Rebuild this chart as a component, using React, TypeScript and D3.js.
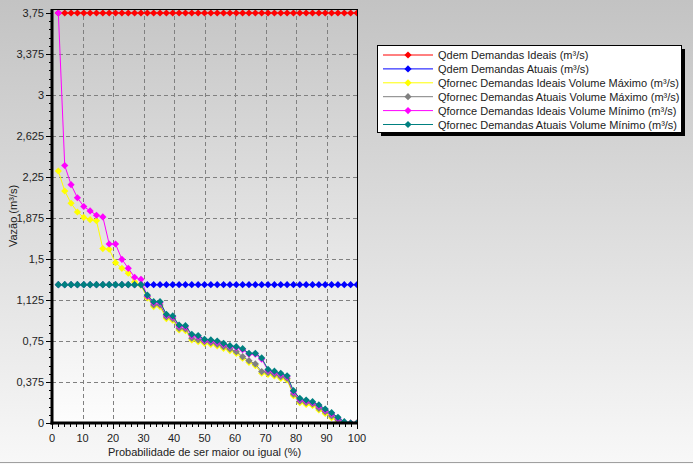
import React from "react";
import * as d3 from "d3";

const prob = [2.08, 4.17, 6.25, 8.33, 10.42, 12.5, 14.58, 16.67, 18.75, 20.83, 22.92, 25, 27.08, 29.17, 31.25, 33.33, 35.42, 37.5, 39.58, 41.67, 43.75, 45.83, 47.92, 50, 52.08, 54.17, 56.25, 58.33, 60.42, 62.5, 64.58, 66.67, 68.75, 70.83, 72.92, 75, 77.08, 79.17, 81.25, 83.33, 85.42, 87.5, 89.58, 91.67, 93.75, 95.83, 97.92, 100];

const qdemIdeais = [3.75, 3.75, 3.75, 3.75, 3.75, 3.75, 3.75, 3.75, 3.75, 3.75, 3.75, 3.75, 3.75, 3.75, 3.75, 3.75, 3.75, 3.75, 3.75, 3.75, 3.75, 3.75, 3.75, 3.75, 3.75, 3.75, 3.75, 3.75, 3.75, 3.75, 3.75, 3.75, 3.75, 3.75, 3.75, 3.75, 3.75, 3.75, 3.75, 3.75, 3.75, 3.75, 3.75, 3.75, 3.75, 3.75, 3.75, 3.75];

const qdemAtuais = [1.265, 1.265, 1.265, 1.265, 1.265, 1.265, 1.265, 1.265, 1.265, 1.265, 1.265, 1.265, 1.265, 1.265, 1.265, 1.265, 1.265, 1.265, 1.265, 1.265, 1.265, 1.265, 1.265, 1.265, 1.265, 1.265, 1.265, 1.265, 1.265, 1.265, 1.265, 1.265, 1.265, 1.265, 1.265, 1.265, 1.265, 1.265, 1.265, 1.265, 1.265, 1.265, 1.265, 1.265, 1.265, 1.265, 1.265, 1.265];

const qfIdeaisMax = [2.305, 2.122, 2.01, 1.93, 1.88, 1.86, 1.85, 1.595, 1.59, 1.466, 1.415, 1.37, 1.29, 1.26, 1.145, 1.065, 1.065, 0.955, 0.94, 0.851, 0.845, 0.76, 0.745, 0.729, 0.72, 0.705, 0.683, 0.662, 0.637, 0.592, 0.555, 0.525, 0.455, 0.445, 0.43, 0.409, 0.394, 0.25, 0.185, 0.17, 0.16, 0.119, 0.088, 0.049, 0.012, 0, 0, 0];

const qfAtuaisMax = [1.265, 1.265, 1.265, 1.265, 1.265, 1.265, 1.265, 1.265, 1.265, 1.265, 1.265, 1.265, 1.265, 1.265, 1.16, 1.08, 1.08, 0.97, 0.955, 0.866, 0.86, 0.775, 0.76, 0.744, 0.735, 0.72, 0.698, 0.677, 0.652, 0.607, 0.57, 0.54, 0.47, 0.46, 0.445, 0.424, 0.409, 0.265, 0.2, 0.185, 0.175, 0.134, 0.103, 0.064, 0.027, 0, 0, 0];

const qfIdeaisMin = [3.75, 2.355, 2.18, 2.06, 1.98, 1.94, 1.9, 1.885, 1.637, 1.637, 1.497, 1.415, 1.333, 1.314, 1.16, 1.1, 1.1, 0.985, 0.97, 0.885, 0.88, 0.8, 0.79, 0.755, 0.75, 0.74, 0.72, 0.7, 0.69, 0.67, 0.63, 0.63, 0.585, 0.48, 0.465, 0.445, 0.425, 0.285, 0.215, 0.2, 0.185, 0.155, 0.118, 0.084, 0.042, 0.005, 0, 0];

const qfAtuaisMin = [1.265, 1.265, 1.265, 1.265, 1.265, 1.265, 1.265, 1.265, 1.265, 1.265, 1.265, 1.265, 1.265, 1.265, 1.17, 1.11, 1.11, 0.994, 0.979, 0.896, 0.89, 0.811, 0.8, 0.765, 0.76, 0.75, 0.729, 0.707, 0.698, 0.68, 0.637, 0.637, 0.595, 0.49, 0.474, 0.455, 0.432, 0.296, 0.226, 0.21, 0.195, 0.165, 0.128, 0.094, 0.052, 0.012, 0, 0];

const seriesNames = [
  "Qdem Demandas Ideais (m³/s)",
  "Qdem Demandas Atuais (m³/s)",
  "Qfornec Demandas Ideais Volume Máximo (m³/s)",
  "Qfornec Demandas Atuais Volume Máximo (m³/s)",
  "Qfornce Demandas Ideais Volume Mínimo (m³/s)",
  "Qfornec Demandas Atuais Volume Mínimo (m³/s)",
];
const seriesColors = ["#ff0000", "#0000ff", "#ffff00", "#808080", "#ff00ff", "#008080"];
const seriesValues = [qdemIdeais, qdemAtuais, qfIdeaisMax, qfAtuaisMax, qfIdeaisMin, qfAtuaisMin];

const xTicks = [0, 10, 20, 30, 40, 50, 60, 70, 80, 90, 100];
const yTicks = [0, 0.375, 0.75, 1.125, 1.5, 1.875, 2.25, 2.625, 3, 3.375, 3.75];
const yTickLabels = ["0", "0,375", "0,75", "1,125", "1,5", "1,875", "2,25", "2,625", "3", "3,375", "3,75"];

const W = 693;
const H = 464;
const PL = 52, PR = 357, PT = 9, PB = 423;
const FONT = "'Liberation Sans', Arial, sans-serif";

export default function App() {
  const x = d3.scaleLinear().domain([0, 100]).range([PL, PR]);
  const y = d3.scaleLinear().domain([0, 3.75]).range([PB, 13]);
  const line = d3.line<number>().x((_, i) => x(prob[i])).y((v) => y(v));
  const xMinor = d3.range(0, 101, 2);
  const yMinor = d3.range(0, 3.751, 0.075);
  const diamond = (cx: number, cy: number, r: number) =>
    `M${cx},${cy - r}L${cx + r},${cy}L${cx},${cy + r}L${cx - r},${cy}Z`;

  const legX = 377, legY = 45, legW = 304, legH = 87;

  return (
    <svg width={W} height={H} style={{ position: "absolute", left: 0, top: 0 }} fontFamily={FONT}>
      <defs>
        <linearGradient id="bg" x1="0" y1="0" x2="0" y2="1">
          <stop offset="0" stopColor="#c3c3c3" />
          <stop offset="1" stopColor="#f8f8f8" />
        </linearGradient>
        <linearGradient id="pbg" x1="0" y1="0" x2="0" y2="1">
          <stop offset="0" stopColor="#c6c6c6" />
          <stop offset="1" stopColor="#fdfdfd" />
        </linearGradient>
        <clipPath id="clip">
          <rect x={PL} y={PT - 4} width={PR - PL} height={PB - PT + 4} />
        </clipPath>
      </defs>
      <rect x={0} y={0} width={W} height={H} fill="url(#bg)" />
      <line x1={0} x2={W} y1={462.5} y2={462.5} stroke="#a0a0a0" />
      <rect x={PL} y={PT} width={PR - PL} height={PB - PT} fill="url(#pbg)" />
      {/* grid */}
      {xTicks.slice(1, -1).map((t) => (
        <line key={"gx" + t} x1={Math.round(x(t)) + 0.5} x2={Math.round(x(t)) + 0.5} y1={PT} y2={PB}
          stroke="#808080" strokeDasharray="4,3" />
      ))}
      {yTicks.slice(1, -1).map((t) => (
        <line key={"gy" + t} x1={PL} x2={PR} y1={Math.round(y(t)) + 0.5} y2={Math.round(y(t)) + 0.5}
          stroke="#808080" strokeDasharray="4,3" />
      ))}
      {/* series */}
      <g clipPath="url(#clip)">
        {seriesValues.map((vals, si) => (
          <g key={"s" + si}>
            <path d={line(vals) || ""} fill="none" stroke={seriesColors[si]} strokeWidth={1} />
            {vals.map((v, i) => (
              <path key={i} d={diamond(x(prob[i]), y(v), 3.6)} fill={seriesColors[si]} />
            ))}
          </g>
        ))}
      </g>
      {/* frame */}
      <line x1={PL} x2={PR + 0.5} y1={PT + 0.5} y2={PT + 0.5} stroke="#000" />
      <line x1={PR + 0.5} x2={PR + 0.5} y1={PT} y2={PB} stroke="#000" />
      <line x1={PL} x2={PL} y1={PT} y2={PB + 1.5} stroke="#000" strokeWidth={3} />
      <line x1={PL - 1.5} x2={PR + 1} y1={PB} y2={PB} stroke="#000" strokeWidth={3} />
      {/* x ticks */}
      {xMinor.map((t) => (
        <line key={"xm" + t} x1={Math.round(x(t)) + 0.5} x2={Math.round(x(t)) + 0.5} y1={PB} y2={PB + (t % 10 === 0 ? 6 : 4)} stroke="#000" />
      ))}
      {xTicks.map((t) => (
        <text key={"xl" + t} x={x(t)} y={442} fontSize={11} textAnchor="middle" fill="#222">{t}</text>
      ))}
      {/* y ticks */}
      {yMinor.map((t, i) => (
        <line key={"ym" + i} x1={PL - (i % 5 === 0 ? 6 : 3)} x2={PL} y1={Math.round(y(t)) + 0.5} y2={Math.round(y(t)) + 0.5} stroke="#000" />
      ))}
      {yTicks.map((t, i) => (
        <text key={"yl" + t} x={44} y={y(t) + 4} fontSize={11} textAnchor="end" fill="#222">{yTickLabels[i]}</text>
      ))}
      {/* axis titles */}
      <text x={(PL + PR) / 2} y={456} fontSize={11} textAnchor="middle" fill="#222">Probabilidade de ser maior ou igual (%)</text>
      <text transform={`translate(17,${(PT + PB) / 2}) rotate(-90)`} fontSize={11} textAnchor="middle" fill="#222">Vazão (m³/s)</text>
      {/* legend */}
      <rect x={legX + 4} y={legY + 4} width={legW} height={legH} fill="#000" />
      <rect x={legX + 0.5} y={legY + 0.5} width={legW} height={legH} fill="#fff" stroke="#000" />
      {seriesNames.map((name, i) => {
        const ry = legY + 10 + i * 13.9;
        return (
          <g key={"lg" + i}>
            <line x1={legX + 6} x2={legX + 56} y1={ry} y2={ry} stroke={seriesColors[i]} />
            <path d={diamond(legX + 31, ry, 3.6)} fill={seriesColors[i]} />
            <text x={legX + 61} y={ry + 4} fontSize={11} fill="#222">{name}</text>
          </g>
        );
      })}
    </svg>
  );
}
